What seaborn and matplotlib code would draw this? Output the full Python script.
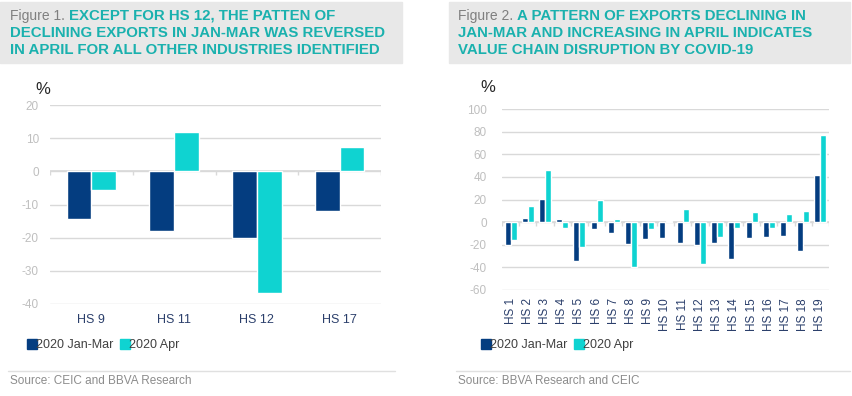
import numpy as np
import pandas as pd
import seaborn as sns
import matplotlib.pyplot as plt
from matplotlib.patches import Rectangle
from matplotlib.lines import Line2D

# datos
series = ["2020 Jan-Mar", "2020 Apr"]

cat_1 = ["HS 9", "HS 11", "HS 12", "HS 17"]
janmar_1 = [-14.5, -18.0, -20.0, -12.0]
apr_1 = [-5.5, 12.0, -36.7, 7.2]

cat_2 = ["HS %d" % i for i in range(1, 20)]
janmar_2 = [-20.0, 3.8, 20.6, 3.2, -34.7, -6.5, -9.7, -19.0, -15.0, -13.8,
            -18.2, -20.6, -18.8, -33.0, -14.0, -13.5, -12.4, -25.6, 42.0]
apr_2 = [-15.6, 14.0, 45.9, -5.6, -21.8, 19.7, 2.6, -40.0, -5.9, 1.2,
         12.0, -37.0, -13.5, -5.6, 8.8, -5.6, 7.6, 10.0, 77.0]

navy = "#043D80"
cyan = "#0FD3D1"
teal = "#1AB1AE"
grid_c = "#D9D9D9"
tick_c = "#BFBFBF"

sns.set_style("white")
plt.rcParams['font.family'] = ['Liberation Sans', 'DejaVu Sans']
plt.rcParams['axes.unicode_minus'] = False


def to_long(cats, a, b):
    df = pd.DataFrame({"cat": cats * 2, "val": list(a) + list(b),
                       "serie": [series[0]] * len(cats) + [series[1]] * len(cats)})
    return df


fig = plt.figure(figsize=(8.52, 3.96), dpi=100)
W, H = 852.0, 396.0


def px_axes(x0, x1, ytop, ybot):
    return fig.add_axes([x0 / W, (H - ybot) / H, (x1 - x0) / W, (ybot - ytop) / H])


def estilo(ax, ylim, yticks, tick_len, pad_y):
    ax.set_ylim(*ylim)
    ax.set_yticks(yticks)
    ax.grid(axis="y", color=grid_c, lw=1)
    ax.set_axisbelow(True)
    for s in ax.spines.values():
        s.set_visible(False)
    ax.tick_params(axis="y", length=0, colors=tick_c, labelsize=8.5, pad=pad_y)
    ax.set_xlabel("")
    ax.set_ylabel("")
    n = len(ax.get_xticks())
    ax.axhline(0, color=grid_c, lw=1.2, zorder=0.5)
    ax.vlines(np.arange(-0.5, n), -tick_len, 0, color=grid_c, lw=1, zorder=0.5)
    ax.set_xlim(-0.5, n - 0.5)
    if ax.get_legend() is not None:
        ax.get_legend().remove()


# ---------- Figura 1
ax1 = px_axes(50, 381, 105, 304)
sns.barplot(data=to_long(cat_1, janmar_1, apr_1), x="cat", y="val", hue="serie",
            palette=[navy, cyan], width=0.6, ax=ax1, saturation=1)
estilo(ax1, (-40, 20), [-40, -30, -20, -10, 0, 10, 20], 1.0, 8)
ax1.tick_params(axis="x", length=0, colors="#2B3F6B", labelsize=9, pad=7)

# ---------- Figura 2
ax2 = px_axes(502, 829, 109, 290)
sns.barplot(data=to_long(cat_2, janmar_2, apr_2), x="cat", y="val", hue="serie",
            palette=[navy, cyan], width=0.7, ax=ax2, saturation=1)
estilo(ax2, (-60, 100), [-60, -40, -20, 0, 20, 40, 60, 80, 100], 3.0, 11)
ax2.tick_params(axis="x", length=0, colors="#2B3F6B", labelsize=8.5, pad=6)
plt.setp(ax2.get_xticklabels(), rotation=90, va="top", ha="center")

# ---------- Titulos (cajas grises)
for x0, x1 in [(0, 402), (449, 850)]:
    fig.patches.append(Rectangle((x0 / W, (H - 63) / H), (x1 - x0) / W, 61 / H,
                                 transform=fig.transFigure, color="#E8E8E8", zorder=0))

t1 = ["EXCEPT FOR HS 12, THE PATTEN OF",
      "DECLINING EXPORTS IN JAN-MAR WAS REVERSED",
      "IN APRIL FOR ALL OTHER INDUSTRIES IDENTIFIED"]
t2 = ["A PATTERN OF EXPORTS DECLINING IN",
      "JAN-MAR AND INCREASING IN APRIL INDICATES",
      "VALUE CHAIN DISRUPTION BY COVID-19"]

for x0, pref, lines in [(10, "Figure 1. ", t1), (458, "Figure 2. ", t2)]:
    for i, ln in enumerate(lines):
        y = (H - (16 + i * 16.8)) / H
        if i == 0:
            tp = fig.text(x0 / W, y, pref, color="#7F7F7F", fontsize=10, va="center")
            fig.canvas.draw()
            bb = tp.get_window_extent()
            xs = bb.x1 / W
        else:
            xs = x0 / W
        fig.text(xs, y, ln, color=teal, fontsize=10.8, fontweight="bold", va="center")

# simbolo %
fig.text(43 / W, (H - 90) / H, "%", fontsize=12, color="#262626", ha="center", va="center")
fig.text(488 / W, (H - 87) / H, "%", fontsize=12, color="#262626", ha="center", va="center")

# leyendas
handles = [Line2D([], [], marker="s", ls="", color=navy, markersize=7),
           Line2D([], [], marker="s", ls="", color=cyan, markersize=7)]
for x0 in [28, 482]:
    fig.legend(handles, series, loc="center left", bbox_to_anchor=(x0 / W, (H - 345) / H),
               ncol=2, frameon=False, fontsize=9, handlelength=0.6, handletextpad=0.05,
               columnspacing=0.6, labelcolor="#404040", borderaxespad=0, borderpad=0)

# lineas y fuentes
fig.add_artist(Line2D([8 / W, 395 / W], [(H - 371) / H] * 2, color="#E0E0E0", lw=1))
fig.add_artist(Line2D([456 / W, 850 / W], [(H - 371) / H] * 2, color="#E0E0E0", lw=1))
fig.text(10 / W, (H - 381) / H, "Source: CEIC and BBVA Research", color="#8C8C8C",
         fontsize=8.5, va="center")
fig.text(458 / W, (H - 381) / H, "Source: BBVA Research and CEIC", color="#8C8C8C",
         fontsize=8.5, va="center")

fig.savefig("out.png", dpi=100)
